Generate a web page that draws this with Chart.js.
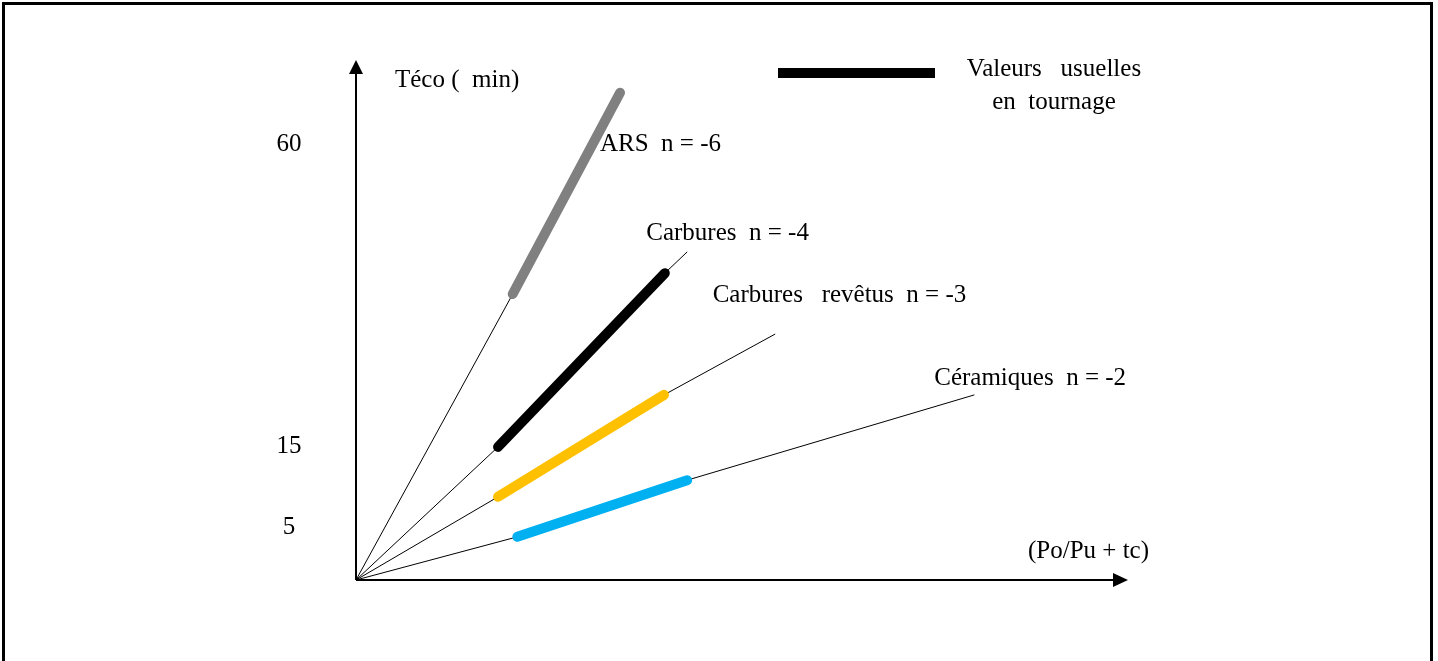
<!DOCTYPE html>
<html>
<head>
<meta charset="utf-8">
<script src="https://cdn.jsdelivr.net/npm/chart.js@4.4.1/dist/chart.umd.min.js"></script>
<style>
html,body{margin:0;padding:0;background:#fff;}
canvas{display:block;}
</style>
</head>
<body>
<canvas id="c" width="1438" height="661"></canvas>
<script>
// ---------------- DATA (schematic units) ----------------
const categories = ['ARS', 'Carbures', 'Carbures revêtus', 'Céramiques'];
const seriesLabels = ['ARS  n = -6', 'Carbures  n = -4', 'Carbures   revêtus  n = -3', 'Céramiques  n = -2'];
// start of the "usual values" thick segment
const thickStartX = [20.3, 18.4, 18.4, 20.9];
const thickStartY = [55.0, 25.6, 16.0, 8.3];
// end of the thick segment
const thickEndX = [34.2, 40.0, 39.9, 42.9];
const thickEndY = [93.7, 59.0, 35.6, 19.2];
// end of the thin line from the origin
const thinEndX = [34.2, 42.9, 54.3, 80.1];
const thinEndY = [93.7, 63.1, 47.3, 35.6];
// y axis ticks
const tickValues = [10.2, 25.6, 83.7];
const tickLabels = ['5', '15', '60'];
const yAxisTitle = 'Téco (  min)';
const xAxisTitle = '(Po/Pu + tc)';
const legendLines = ['Valeurs   usuelles', 'en  tournage'];

// ---------------- STYLE / LAYOUT ----------------
const thickColors = ['#808080', '#000000', '#FFC000', '#00B0F0'];
const FONT = '25px "Liberation Serif", "Times New Roman", serif';
const labelPos = [ {x: 31.6, y: 83.7}, {x: 37.6, y: 66.7}, {x: 46.2, y: 54.8}, {x: 74.9, y: 38.8} ];

const datasets = [];
categories.forEach((c, i) => {
  datasets.push({
    label: c + ' (thin)',
    data: [{x: 0, y: 0}, {x: thickStartX[i], y: thickStartY[i]}, {x: thickEndX[i], y: thickEndY[i]}, {x: thinEndX[i], y: thinEndY[i]}],
    showLine: true, borderColor: '#000', borderWidth: 1, pointRadius: 0, tension: 0, order: 2
  });
});
categories.forEach((c, i) => {
  datasets.push({
    label: c,
    data: [{x: thickStartX[i], y: thickStartY[i]}, {x: thickEndX[i], y: thickEndY[i]}],
    showLine: true, borderColor: thickColors[i], borderWidth: 10, borderCapStyle: 'round',
    pointRadius: 0, tension: 0, order: 1
  });
});

const decor = {
  id: 'decor',
  beforeDatasetsDraw(chart) {
    const ctx = chart.ctx, a = chart.chartArea;
    ctx.save();
    // frame
    ctx.strokeStyle = '#000'; ctx.lineWidth = 3;
    ctx.strokeRect(3.5, 3.5, 1428, 700);
    // axes
    ctx.lineWidth = 2;
    ctx.beginPath();
    ctx.moveTo(a.left, a.bottom); ctx.lineTo(a.left, a.top + 12);
    ctx.moveTo(a.left, a.bottom); ctx.lineTo(a.right - 14, a.bottom);
    ctx.stroke();
    ctx.fillStyle = '#000';
    ctx.beginPath();
    ctx.moveTo(a.left, a.top); ctx.lineTo(a.left - 7, a.top + 14); ctx.lineTo(a.left + 7, a.top + 14); ctx.closePath();
    ctx.fill();
    ctx.beginPath();
    ctx.moveTo(a.right, a.bottom); ctx.lineTo(a.right - 15, a.bottom - 7); ctx.lineTo(a.right - 15, a.bottom + 7); ctx.closePath();
    ctx.fill();
    ctx.restore();
  },
  afterDatasetsDraw(chart) {
    const ctx = chart.ctx, a = chart.chartArea;
    const xs = chart.scales.x, ys = chart.scales.y;
    ctx.save();
    ctx.font = FONT; ctx.fillStyle = '#000'; ctx.textBaseline = 'middle';
    // tick labels
    ctx.textAlign = 'center';
    tickValues.forEach((v, i) => ctx.fillText(tickLabels[i], a.left - 67, ys.getPixelForValue(v)));
    // axis titles
    ctx.textAlign = 'left';
    ctx.fillText(yAxisTitle, a.left + 39, a.top + 20);
    ctx.fillText(xAxisTitle, a.right - 100, a.bottom - 29);
    // series labels
    seriesLabels.forEach((s, i) => ctx.fillText(s, xs.getPixelForValue(labelPos[i].x), ys.getPixelForValue(labelPos[i].y)));
    // legend
    ctx.fillRect(778, 68, 157, 10);
    ctx.textAlign = 'center';
    ctx.fillText(legendLines[0], 1054, 69);
    ctx.fillText(legendLines[1], 1054, 102);
    ctx.restore();
  }
};

new Chart(document.getElementById('c'), {
  type: 'scatter',
  data: { datasets },
  options: {
    responsive: false, animation: false, devicePixelRatio: 1,
    layout: { padding: { left: 356, right: 310, top: 60, bottom: 81 } },
    scales: {
      x: { type: 'linear', min: 0, max: 100, display: false },
      y: { type: 'linear', min: 0, max: 100, display: false }
    },
    plugins: { legend: { display: false }, tooltip: { enabled: false } }
  },
  plugins: [decor]
});
</script>
</body>
</html>
